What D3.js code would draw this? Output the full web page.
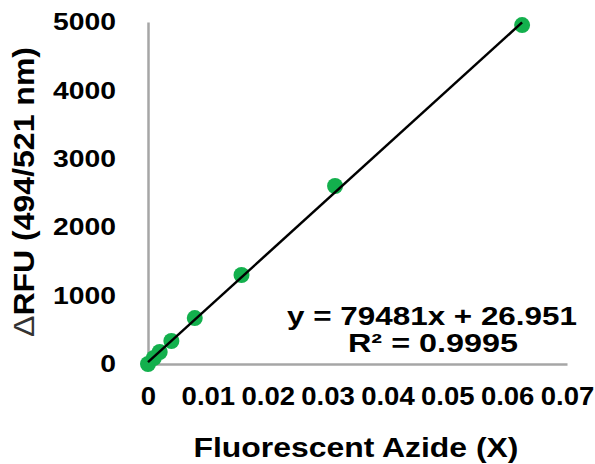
<!DOCTYPE html>
<html>
<head>
<meta charset="utf-8">
<script src="https://cdn.jsdelivr.net/npm/d3@7"></script>
<style>
  body { margin: 0; background: #fff; }
  text { font-family: "Liberation Sans", Arial, sans-serif; font-weight: bold; fill: #000; }
</style>
</head>
<body>
<div id="chart"></div>
<script>
// standard curve data (2-fold dilutions)
const concentrations = [0, 0.0009765625, 0.001953125, 0.00390625, 0.0078125, 0.015625, 0.03125, 0.0625]
const rfu = [0, 88, 175, 336, 672, 1301, 2602, 4955]
const xTicks = [0, 0.01, 0.02, 0.03, 0.04, 0.05, 0.06, 0.07]
const yTicks = [0, 1000, 2000, 3000, 4000, 5000]
const slope = 79481
const intercept = 26.951
const equationLabel = 'y = 79481x + 26.951'
const r2Label = 'R² = 0.9995'

const data = concentrations.map((c, i) => ({ x: c, y: rfu[i] }))

const svg = d3.select('#chart').append('svg')
  .attr('width', 595)
  .attr('height', 464)

const xScale = d3.scaleLinear()
  .domain([0, 0.07])
  .range([148, 567])
const yScale = d3.scaleLinear()
  .domain([0, 5000])
  .range([364, 22])

// widen text horizontally, the original looks stretched
function stretch(sel, k) {
  sel.each(function() {
    const w = this.getComputedTextLength()
    d3.select(this).attr('textLength', w * k).attr('lengthAdjust', 'spacingAndGlyphs')
  })
}

const xAxis = svg.append('g')
  .attr('transform', `translate(0, ${yScale(0)})`)
  .call(d3.axisBottom(xScale)
    .tickValues(xTicks)
    .tickSize(0)
    .tickPadding(23)
    .tickFormat(d => d === 0 ? '0' : d3.format('.2f')(d)))
xAxis.select('.domain').attr('stroke', '#a6a6a6').attr('stroke-width', 2.5)
xAxis.selectAll('text').style('font-size', '25px')
stretch(xAxis.selectAll('text'), 1.1)

const yAxis = svg.append('g')
  .attr('transform', `translate(${xScale(0)}, 0)`)
  .call(d3.axisLeft(yScale)
    .tickValues(yTicks)
    .tickSize(0)
    .tickPadding(32)
    .tickFormat(d3.format('d')))
yAxis.select('.domain').attr('stroke', '#a6a6a6').attr('stroke-width', 2.5)
yAxis.selectAll('text').style('font-size', '24px')
stretch(yAxis.selectAll('text'), 1.18)

// points
svg.selectAll('circle')
  .data(data)
  .enter()
  .append('circle')
  .attr('cx', d => xScale(d.x))
  .attr('cy', d => yScale(d.y))
  .attr('r', 8)
  .attr('fill', '#13b04d')

// linear trendline
const xMax = d3.max(concentrations)
svg.append('line')
  .attr('x1', xScale(0))
  .attr('y1', yScale(intercept))
  .attr('x2', xScale(xMax))
  .attr('y2', yScale(slope * xMax + intercept))
  .attr('stroke', '#000')
  .attr('stroke-width', 2.5)

svg.append('text')
  .attr('x', 577)
  .attr('y', 325)
  .attr('text-anchor', 'end')
  .style('font-size', '26px')
  .attr('textLength', 290)
  .attr('lengthAdjust', 'spacingAndGlyphs')
  .text(equationLabel)

svg.append('text')
  .attr('x', 433)
  .attr('y', 352)
  .attr('text-anchor', 'middle')
  .style('font-size', '26px')
  .attr('textLength', 170)
  .attr('lengthAdjust', 'spacingAndGlyphs')
  .text(r2Label)

svg.append('text')
  .attr('x', 356)
  .attr('y', 457)
  .attr('text-anchor', 'middle')
  .style('font-size', '27px')
  .attr('textLength', 325)
  .attr('lengthAdjust', 'spacingAndGlyphs')
  .text('Fluorescent Azide (X)')

const yTitle = svg.append('text')
  .attr('transform', 'translate(34, 192) rotate(-90)')
  .attr('text-anchor', 'middle')
  .style('font-size', '29px')
  .attr('textLength', 290)
  .attr('lengthAdjust', 'spacingAndGlyphs')
yTitle.append('tspan').style('font-weight', 'normal').attr('fill', '#333').text('Δ')
yTitle.append('tspan').text('RFU (494/521 nm)')
</script>
</body>
</html>
